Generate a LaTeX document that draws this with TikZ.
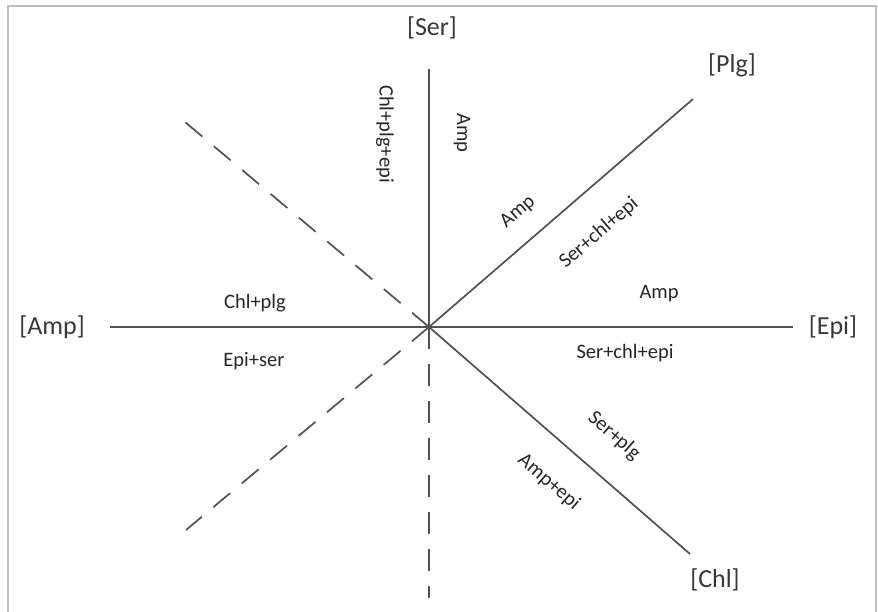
\documentclass[tikz,border=0pt]{standalone}
\usepackage{fontspec}
\setmainfont{Carlito}
\begin{document}
\begin{tikzpicture}[x=1pt,y=-1pt,
  axis/.style={line width=1.7pt,draw=black!68},
  dashaxis/.style={axis,dash pattern=on 22pt off 15pt},
  big/.style={font=\fontsize{26}{30}\selectfont,text=black!78,inner sep=0pt},
  small/.style={font=\fontsize{20.5}{24}\selectfont,text=black!85,inner sep=0pt},
  frame/.style={line width=2pt,draw=black!25}]
\useasboundingbox (0,0) rectangle (878,612);
\draw[frame] (8,613) -- (8,6) -- (876,6) -- (876,613);
\coordinate (O) at (429,327);
\coordinate (serEnd) at (429,69);
\coordinate (serDash) at (429,598);
\coordinate (ampEnd) at (110,327);
\coordinate (epiEnd) at (793,327);
\coordinate (plgEnd) at (693,99);
\coordinate (chlEnd) at (690,554);
\coordinate (nwEnd) at (185,122);
\coordinate (swEnd) at (186,530);
% axis labels
\node[big] (ser) at (432,28) {[Ser]};
\node[big] (plg) at (732,65) {[Plg]};
\node[big] (amp) at (52,327) {[Amp]};
\node[big] (epi) at (833,327) {[Epi]};
\node[big] (chl) at (715,580) {[Chl]};
% axes
\draw[axis] (O) -- (serEnd);
\draw[axis] (ampEnd) -- (epiEnd);
\draw[axis] (O) -- (plgEnd);
\draw[axis] (O) -- (chlEnd);
\draw[dashaxis] (O) -- (serDash);
\draw[dashaxis] (O) -- (nwEnd);
\draw[dashaxis] (O) -- (swEnd);
% field labels
\node[small,rotate=-90] (l1) at (385,134) {Chl+plg+epi};
\node[small,rotate=-90] (l2) at (462,133) {Amp};
\node[small,rotate=40.8] (l3) at (518,212) {Amp};
\node[small,rotate=40.8] (l4) at (599,233) {Ser+chl+epi};
\node[small] (l5) at (659,294) {Amp};
\node[small] (l6) at (625,353) {Ser+chl+epi};
\node[small,rotate=-41] (l7) at (614,436) {Ser+plg};
\node[small,rotate=-41] (l8) at (549,482) {Amp+epi};
\node[small] (l9) at (255,303) {Chl+plg};
\node[small] (l10) at (254,361) {Epi+ser};
\end{tikzpicture}
\end{document}
